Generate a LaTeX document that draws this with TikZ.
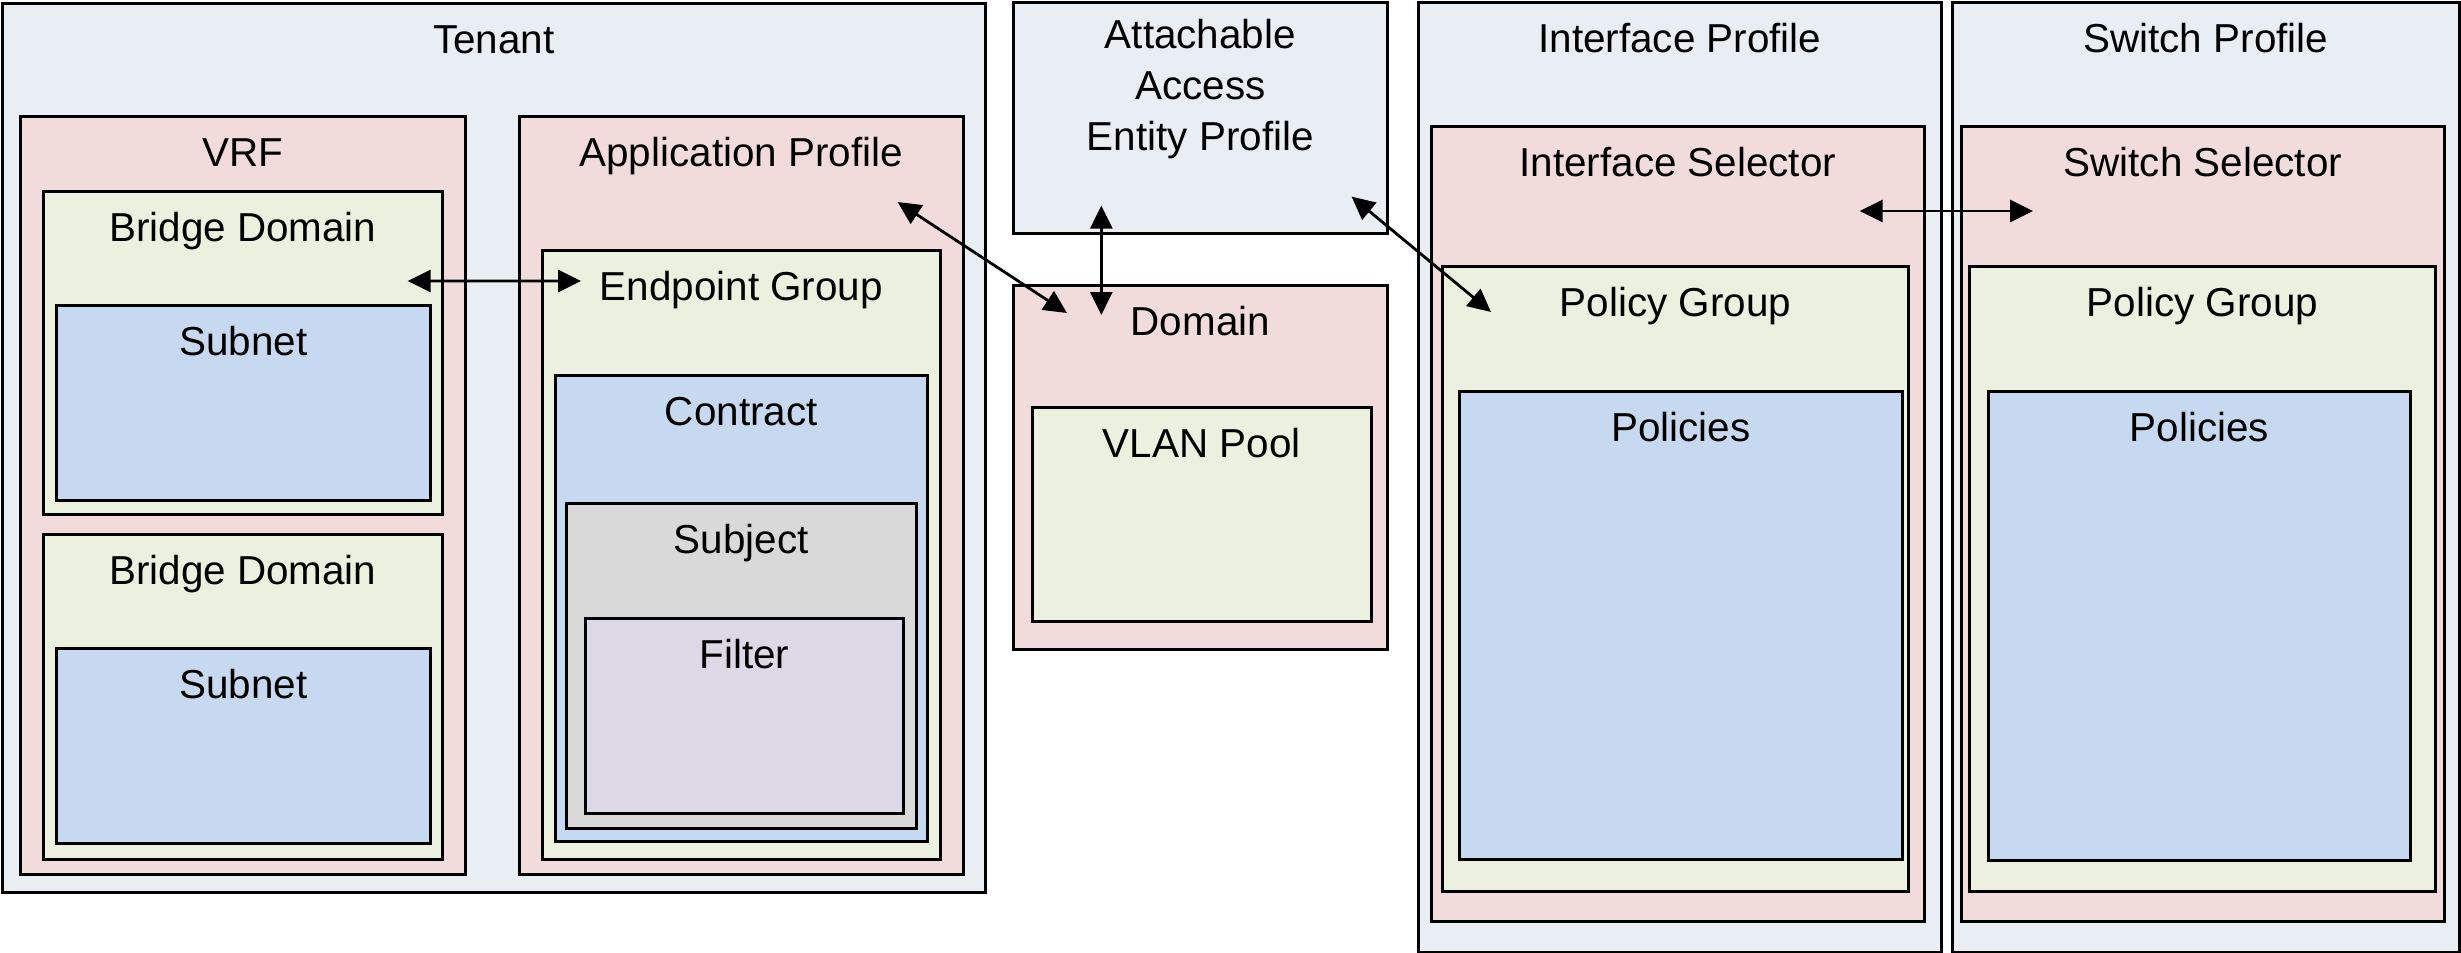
\documentclass[tikz,border=0pt]{standalone}
\usepackage{fontspec}
\setmainfont{Liberation Sans}
\usetikzlibrary{shapes,arrows.meta}
\definecolor{profcol}{HTML}{E9EDF4}
\definecolor{selcol}{HTML}{F2DCDB}
\definecolor{grpcol}{HTML}{EBF1DE}
\definecolor{polcol}{HTML}{C6D9F1}
\definecolor{subjcol}{HTML}{D9D9D9}
\definecolor{filtcol}{HTML}{DDD8E6}
\tikzstyle{cfgbox} = [rectangle, draw, line width=0.75pt, inner sep=0pt, anchor=north west]
\tikzstyle{boxtitle} = [anchor=base, inner sep=0pt]
\tikzstyle{link} = [draw, line width=0.8pt, {Triangle[length=2.3mm,width=2.2mm]}-{Triangle[length=2.3mm,width=2.2mm]}]

\begin{document}
\begin{tikzpicture}[font=\fontsize{11.5pt}{14.5pt}\selectfont]
  \useasboundingbox (0,0) rectangle (24.61,-9.52);

  % tenant side
  \node [cfgbox, fill=profcol, minimum width=9.83cm, minimum height=8.89cm] (tenant) at (0.01,-0.02) {};
  \node [boxtitle] (tenantt) at ([yshift=-0.51cm]tenant.north) {Tenant};
  \node [cfgbox, fill=selcol, minimum width=4.45cm, minimum height=7.58cm] (vrf) at (0.19,-1.15) {};
  \node [boxtitle] (vrft) at ([yshift=-0.51cm]vrf.north) {VRF};
  \node [cfgbox, fill=grpcol, minimum width=3.99cm, minimum height=3.23cm] (bd1) at (0.42,-1.90) {};
  \node [boxtitle] (bd1t) at ([yshift=-0.51cm]bd1.north) {Bridge Domain};
  \node [cfgbox, fill=polcol, minimum width=3.74cm, minimum height=1.95cm] (sub1) at (0.55,-3.04) {};
  \node [boxtitle] (sub1t) at ([yshift=-0.51cm]sub1.north) {Subnet};
  \node [cfgbox, fill=grpcol, minimum width=3.99cm, minimum height=3.25cm] (bd2) at (0.42,-5.33) {};
  \node [boxtitle] (bd2t) at ([yshift=-0.51cm]bd2.north) {Bridge Domain};
  \node [cfgbox, fill=polcol, minimum width=3.74cm, minimum height=1.95cm] (sub2) at (0.55,-6.47) {};
  \node [boxtitle] (sub2t) at ([yshift=-0.51cm]sub2.north) {Subnet};

  \node [cfgbox, fill=selcol, minimum width=4.44cm, minimum height=7.58cm] (ap) at (5.18,-1.15) {};
  \node [boxtitle] (apt) at ([yshift=-0.51cm]ap.north) {Application Profile};
  \node [cfgbox, fill=grpcol, minimum width=3.98cm, minimum height=6.09cm] (epg) at (5.41,-2.49) {};
  \node [boxtitle] (epgt) at ([yshift=-0.51cm]epg.north) {Endpoint Group};
  \node [cfgbox, fill=polcol, minimum width=3.72cm, minimum height=4.66cm] (contract) at (5.54,-3.74) {};
  \node [boxtitle] (contractt) at ([yshift=-0.51cm]contract.north) {Contract};
  \node [cfgbox, fill=subjcol, minimum width=3.50cm, minimum height=3.25cm] (subject) at (5.65,-5.02) {};
  \node [boxtitle] (subjectt) at ([yshift=-0.51cm]subject.north) {Subject};
  \node [cfgbox, fill=filtcol, minimum width=3.18cm, minimum height=1.95cm] (filter) at (5.84,-6.17) {};
  \node [boxtitle] (filtert) at ([yshift=-0.51cm]filter.north) {Filter};

  % access side
  \node [cfgbox, fill=profcol, minimum width=3.74cm, minimum height=2.31cm] (aaep) at (10.12,-0.01) {};
  \node [align=center, inner sep=0pt] (aaept) at ([yshift=-0.88cm]aaep.north) {Attachable\\Access\\Entity Profile};
  \node [cfgbox, fill=selcol, minimum width=3.74cm, minimum height=3.64cm] (dom) at (10.12,-2.84) {};
  \node [boxtitle] (domt) at ([yshift=-0.51cm]dom.north) {Domain};
  \node [cfgbox, fill=grpcol, minimum width=3.39cm, minimum height=2.14cm] (vlan) at (10.31,-4.06) {};
  \node [boxtitle] (vlant) at ([yshift=-0.51cm]vlan.north) {VLAN Pool};

  \node [cfgbox, fill=profcol, minimum width=5.23cm, minimum height=9.50cm] (ip) at (14.17,-0.01) {};
  \node [boxtitle] (ipt) at ([yshift=-0.51cm]ip.north) {Interface Profile};
  \node [cfgbox, fill=selcol, minimum width=4.93cm, minimum height=7.95cm] (isel) at (14.30,-1.25) {};
  \node [boxtitle] (iselt) at ([yshift=-0.51cm]isel.north) {Interface Selector};
  \node [cfgbox, fill=grpcol, minimum width=4.66cm, minimum height=6.25cm] (pg1) at (14.41,-2.65) {};
  \node [boxtitle] (pg1t) at ([yshift=-0.51cm]pg1.north) {Policy Group};
  \node [cfgbox, fill=polcol, minimum width=4.43cm, minimum height=4.68cm] (pol1) at (14.58,-3.90) {};
  \node [boxtitle] (pol1t) at ([yshift=-0.51cm]pol1.north) {Policies};

  \node [cfgbox, fill=profcol, minimum width=5.07cm, minimum height=9.50cm] (sp) at (19.51,-0.01) {};
  \node [boxtitle] (spt) at ([yshift=-0.51cm]sp.north) {Switch Profile};
  \node [cfgbox, fill=selcol, minimum width=4.83cm, minimum height=7.95cm] (ssel) at (19.60,-1.25) {};
  \node [boxtitle] (sselt) at ([yshift=-0.51cm]ssel.north) {Switch Selector};
  \node [cfgbox, fill=grpcol, minimum width=4.66cm, minimum height=6.25cm] (pg2) at (19.68,-2.65) {};
  \node [boxtitle] (pg2t) at ([yshift=-0.51cm]pg2.north) {Policy Group};
  \node [cfgbox, fill=polcol, minimum width=4.22cm, minimum height=4.69cm] (pol2) at (19.87,-3.90) {};
  \node [boxtitle] (pol2t) at ([yshift=-0.51cm]pol2.north) {Policies};

  % relations
  \path [link] ([shift={(-0.36,-0.91)}]bd1.north east) -- ([shift={(0.40,-0.32)}]epg.north west);
  \path [link] ([shift={(-0.67,-0.87)}]ap.north east) -- ([shift={(0.55,-0.29)}]dom.north west);
  \path [link] ([shift={(-0.99,0.29)}]aaep.south) -- ([shift={(-0.99,-0.31)}]dom.north);
  \path [link] ([shift={(-0.37,0.38)}]aaep.south east) -- ([shift={(0.50,-0.47)}]pg1.north west);
  \path [link] ([shift={(-0.66,-0.86)}]isel.north east) -- ([shift={(0.73,-0.86)}]ssel.north west);
\end{tikzpicture}
\end{document}
